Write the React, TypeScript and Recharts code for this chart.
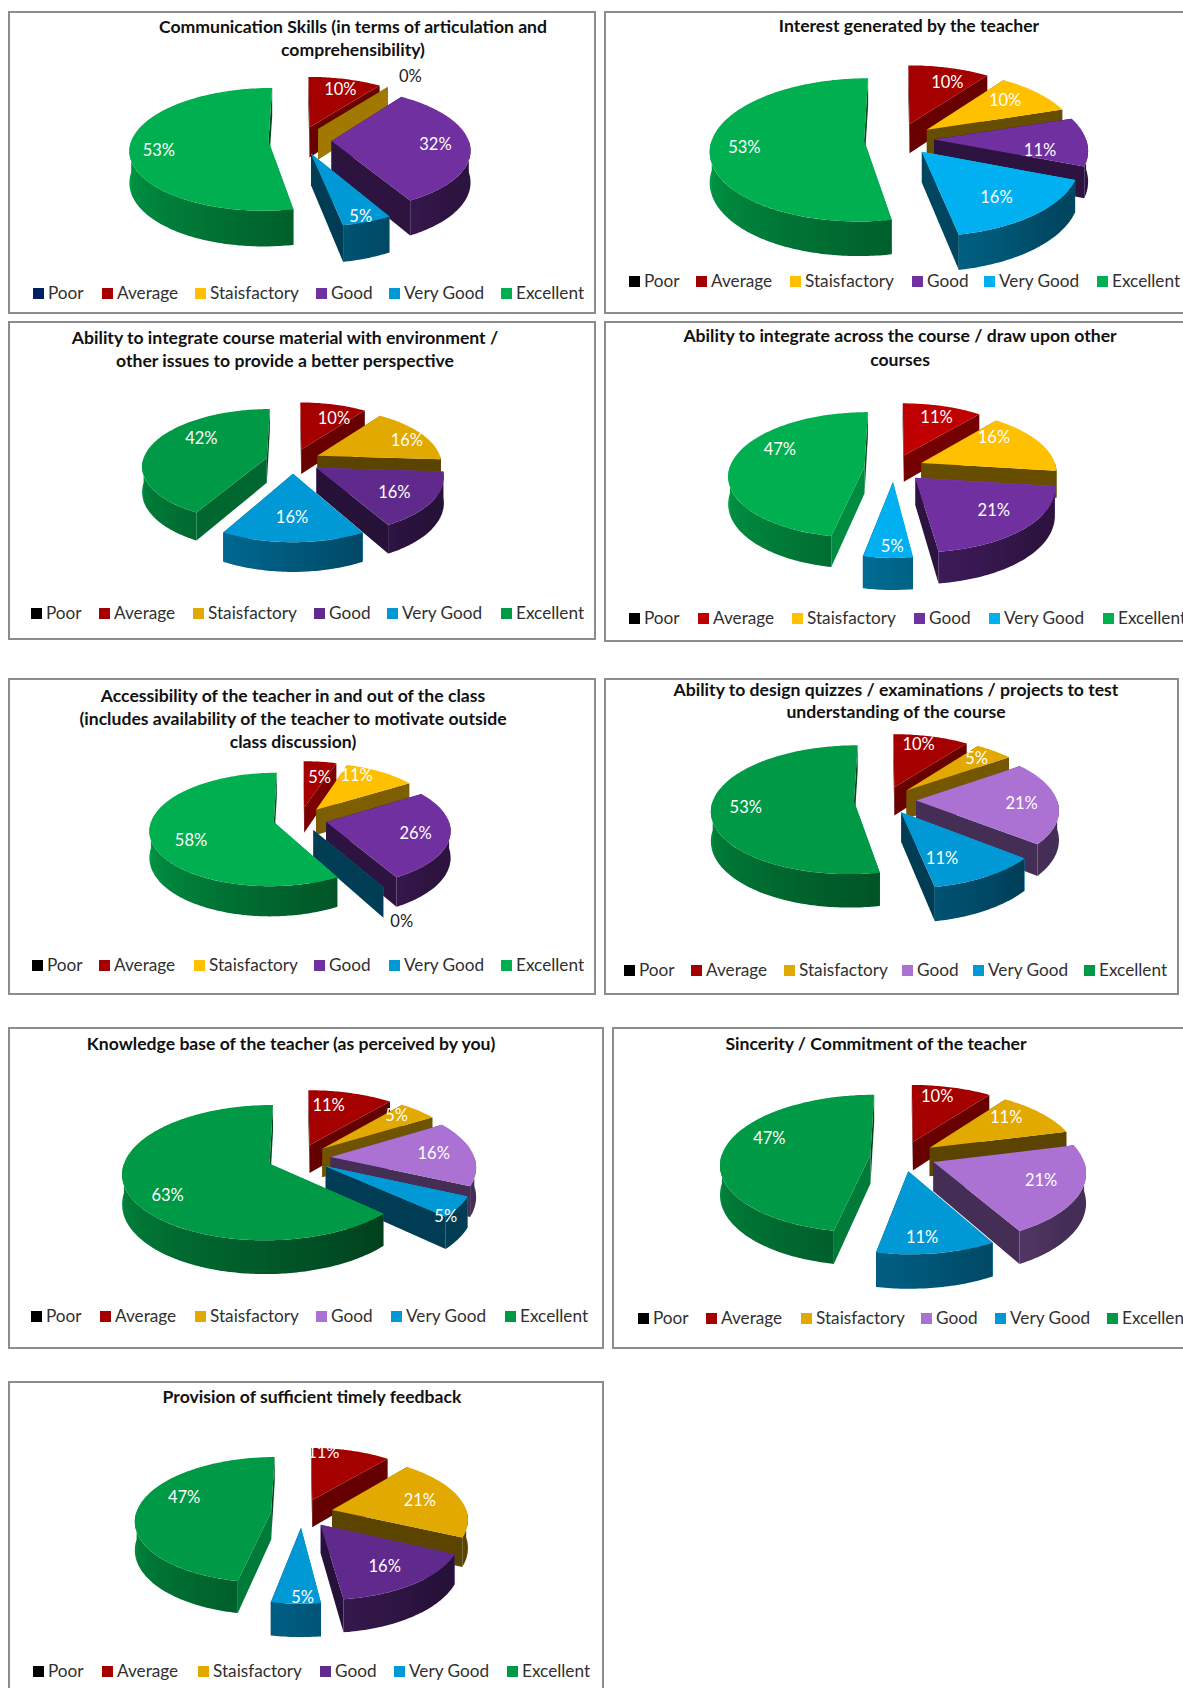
import React from 'react';
import { PieChart, Pie, Legend } from 'recharts';

const categories = ['Poor', 'Average', 'Staisfactory', 'Good', 'Very Good', 'Excellent'];

const communicationValues = [0, 10, 0, 32, 5, 53];
const interestValues = [0, 10, 10, 11, 16, 53];
const environmentValues = [0, 10, 16, 16, 16, 42];
const acrossCourseValues = [0, 11, 16, 21, 5, 47];
const accessibilityValues = [0, 5, 11, 26, 0, 58];
const quizzesValues = [0, 10, 5, 21, 11, 53];
const knowledgeValues = [0, 11, 5, 16, 5, 63];
const sincerityValues = [0, 10, 11, 21, 11, 47];
const feedbackValues = [0, 11, 21, 16, 5, 47];

const paletteA = ['#002060', '#a50000', '#ffc000', '#7030a0', '#0099d5', '#00b050'];
const paletteB = ['#000000', '#a50000', '#ffc000', '#7030a0', '#00b0f0', '#00b050'];
const paletteC = ['#000000', '#a50000', '#e2a900', '#602a8c', '#0099d5', '#009a46'];
const paletteD = ['#000000', '#c00000', '#ffc000', '#7030a0', '#00b0f0', '#00b050'];
const paletteE = ['#000000', '#a50000', '#ffc000', '#7030a0', '#0099d5', '#00b050'];
const paletteF = ['#000000', '#a50000', '#e2a900', '#ab72d4', '#0099d5', '#009a46'];

const PERSPECTIVE = 0.13;
const FONT = 'Lato, "Open Sans", sans-serif';

type Panel = {
  id: string;
  box: [number, number, number, number];
  title: string[];
  titleX: number;
  titleY: number[];
  values: number[];
  colors: string[];
  c: [number, number];
  rx: number;
  ry: number;
  depth: number;
  explode: number;
  nudge: number[][];
  labelClip?: [number, number];
  legendX: number[];
  legendY: number;
};

const panels: Panel[] = [
  {
    id: 'p1',
    box: [8, 11, 596, 314],
    title: ['Communication Skills (in terms of articulation and', 'comprehensibility)'],
    titleX: 353, titleY: [27, 50],
    values: communicationValues, colors: paletteA,
    c: [300, 140], rx: 137, ry: 60, depth: 31, explode: 0.23,
    nudge: [[0, 0], [3, -1], [3, 1], [-1, 0], [8.5, 12], [-4.5, 4]],
    legendX: [33, 102, 195, 316, 389, 501], legendY: 293,
  },
  {
    id: 'p2',
    box: [604, 11, 1200, 314],
    title: ['Interest generated by the teacher'],
    titleX: 909, titleY: [26],
    values: interestValues, colors: paletteB,
    c: [899, 139], rx: 152, ry: 70, depth: 30, explode: 0.23,
    nudge: [[0, 0], [7, 2], [-7, -1], [-10, 9], [-9, -1], [-3, 1]],
    legendX: [629, 696, 790, 912, 984, 1097], legendY: 281,
  },
  {
    id: 'p3',
    box: [8, 321, 596, 640],
    title: ['Ability to integrate course material with environment /', 'other issues to provide a better perspective'],
    titleX: 285, titleY: [338, 361],
    values: environmentValues, colors: paletteC,
    c: [293, 461], rx: 124, ry: 56, depth: 25, explode: 0.22,
    nudge: [[0, 0], [7.5, 4], [9.6, 1], [-8.7, -1], [-1, -6.5], [22.5, -10]],
    legendX: [31, 99, 193, 314, 387, 501], legendY: 613,
  },
  {
    id: 'p4',
    box: [604, 321, 1200, 642],
    title: ['Ability to integrate across the course / draw upon other', 'courses'],
    titleX: 900, titleY: [336, 360],
    values: acrossCourseValues, colors: paletteD,
    c: [894, 468], rx: 135, ry: 62, depth: 27, explode: 0.22,
    nudge: [[0, 0], [2.5, 0], [-17.5, -10], [-3, -5.5], [3, 8.5], [16, -13]],
    legendX: [629, 698, 792, 914, 989, 1103], legendY: 618,
  },
  {
    id: 'p5',
    box: [8, 678, 596, 995],
    title: ['Accessibility of the teacher in and out of the class', '(includes availability of the teacher to motivate outside', 'class discussion)'],
    titleX: 293, titleY: [696, 719, 742],
    values: accessibilityValues, colors: paletteE,
    c: [300, 819], rx: 122, ry: 55, depth: 26, explode: 0.22,
    nudge: [[0, 0], [3, 5.5], [-10, -5], [-4, 0], [-8, 12], [10.6, 7.6]],
    legendX: [32, 99, 194, 314, 389, 501], legendY: 965,
  },
  {
    id: 'p6',
    box: [604, 678, 1179, 995],
    title: ['Ability to design quizzes / examinations / projects to test', 'understanding of the course'],
    titleX: 896, titleY: [690, 712],
    values: quizzesValues, colors: paletteF,
    c: [885, 800], rx: 141, ry: 63, depth: 29, explode: 0.22,
    nudge: [[0, 0], [-4.5, -3.6], [2, -1.5], [-2, 1], [-22, -2], [0, 1]],
    legendX: [624, 691, 784, 902, 973, 1084], legendY: 970,
  },
  {
    id: 'p7',
    box: [8, 1027, 604, 1349],
    title: ['Knowledge base of the teacher (as perceived by you)'],
    titleX: 291, titleY: [1044],
    values: knowledgeValues, colors: paletteF,
    c: [299, 1158], rx: 144, ry: 65, depth: 29, explode: 0.22,
    nudge: [[0, 0], [-13, 1], [0, -4], [-5, -1], [21, 19], [5, 10]],
    legendX: [31, 100, 195, 316, 391, 505], legendY: 1316,
  },
  {
    id: 'p8',
    box: [612, 1027, 1200, 1349],
    title: ['Sincerity / Commitment of the teacher'],
    titleX: 876, titleY: [1044],
    values: sincerityValues, colors: paletteF,
    c: [903, 1156], rx: 149, ry: 68, depth: 29, explode: 0.22,
    nudge: [[0, 0], [-6, -3.5], [-9.5, -4.5], [-3, -3.5], [-7, 6], [10, -12]],
    legendX: [638, 706, 801, 921, 995, 1107], legendY: 1318,
  },
  {
    id: 'p9',
    box: [8, 1381, 604, 1720],
    title: ['Provision of sufficient timely feedback'],
    titleX: 312, titleY: [1397],
    values: feedbackValues, colors: paletteC,
    c: [302, 1513], rx: 135, ry: 62, depth: 28, explode: 0.23,
    nudge: [[0, 0], [-19, -9.5], [-9, 0], [-5, -2], [5.5, 14], [13.6, -10.7]],
    labelClip: [311, 1448],
    legendX: [33, 102, 198, 320, 394, 507], legendY: 1671,
  },
];

const rad = (d: number) => (d * Math.PI) / 180;

function shade(hex: string, f: number) {
  const n = parseInt(hex.slice(1), 16);
  const ch = (v: number) => Math.round(v * f);
  return `rgb(${ch((n >> 16) & 255)},${ch((n >> 8) & 255)},${ch(n & 255)})`;
}

const wallFactor = (t: number) => Math.min(0.92, Math.max(0.4, 0.4 + ((t - 130) * 0.5) / 140));
const faceFactor = (n: number) => Math.max(0.4, 0.8 - (n - 100) * 0.0065);

function project(px: number, py: number, cx: number, cy: number, rx: number, ry: number, dz: number) {
  const s = 1 / (1 - PERSPECTIVE * py);
  return [cx + rx * px * s, cy + ry * py * s + dz * s];
}

const toPath = (pts: number[][]) =>
  'M' + pts.map((p) => `${p[0].toFixed(1)},${p[1].toFixed(1)}`).join('L') + 'Z';

function makeSliceShape(panel: Panel) {
  return function SliceShape(props: any) {
    const { cx, cy, outerRadius, startAngle, endAngle, fill, name } = props;
    if (name === categories[0]) return <g />;
    const t1 = 90 - startAngle;
    const t2 = 90 - endAngle;
    const mid = (t1 + t2) / 2;
    const ex = panel.explode * Math.sin(rad(mid));
    const ey = -panel.explode * Math.cos(rad(mid));
    const rim = (t: number, dz: number) =>
      project(ex + Math.sin(rad(t)), ey - Math.cos(rad(t)), cx, cy, outerRadius, panel.ry, dz);
    const apex = (dz: number) => project(ex, ey, cx, cy, outerRadius, panel.ry, dz);

    const top: number[][] = [apex(0)];
    const steps = Math.max(1, Math.ceil(t2 - t1));
    for (let i = 0; i <= steps; i++) top.push(rim(t1 + ((t2 - t1) * i) / steps, 0));

    const face = (t: number) => [apex(0), rim(t, 0), rim(t, panel.depth), apex(panel.depth)];
    const startVisible = Math.sin(rad(t1)) < 0;
    const endVisible = Math.sin(rad(t2)) > 0.001;
    const hidden: React.ReactNode[] = [];
    const visible: React.ReactNode[] = [];
    const startColor = shade(fill, faceFactor(t1 - 90 < 0 ? t1 + 270 : t1 - 90));
    const endColor = shade(fill, faceFactor(t2 + 90));
    (startVisible ? visible : hidden).push(
      <path key="s" d={toPath(face(t1))} fill={startColor} />,
    );
    (endVisible ? visible : hidden).push(
      <path key="e" d={toPath(face(t2))} fill={endColor} />,
    );

    const a = Math.max(t1, 90);
    const b = Math.min(t2, 270);
    let wall: React.ReactNode = null;
    if (b > a) {
      const upper: number[][] = [];
      const lower: number[][] = [];
      const stops: React.ReactNode[] = [];
      const x1 = rim(a, 0)[0];
      const x2 = rim(b, 0)[0];
      const n = Math.max(2, Math.ceil(b - a));
      for (let i = 0; i <= n; i++) {
        const t = a + ((b - a) * i) / n;
        upper.push(rim(t, 0));
        lower.unshift(rim(t, panel.depth));
        if (i % 8 === 0 || i === n) {
          stops.push(
            <stop
              key={i}
              offset={Math.max(0, Math.min(1, (rim(t, 0)[0] - x1) / (x2 - x1 || 1)))}
              stopColor={shade(fill, wallFactor(t))}
            />,
          );
        }
      }
      const gid = `${panel.id}-${name.replace(/\s/g, '')}`;
      wall = (
        <>
          <defs>
            <linearGradient id={gid} gradientUnits="userSpaceOnUse" x1={x1} y1={0} x2={x2} y2={0}>
              {stops}
            </linearGradient>
          </defs>
          <path d={toPath([...upper, ...lower])} fill={`url(#${gid})`} />
        </>
      );
    }

    return (
      <g>
        {hidden}
        {visible}
        {wall}
        {t2 > t1 ? <path d={toPath(top)} fill={fill} /> : null}
      </g>
    );
  };
}

function makeLabel(panel: Panel) {
  return function SliceLabel(props: any) {
    const { cx, cy, outerRadius, midAngle, value, name } = props;
    if (name === categories[0]) return <g />;
    const idx = categories.indexOf(name);
    const t = 90 - midAngle;
    const reach = panel.explode + (value === 0 ? 1.32 : 0.76);
    const [x, y] = project(
      reach * Math.sin(rad(t)),
      -reach * Math.cos(rad(t)),
      cx,
      cy,
      outerRadius,
      panel.ry,
      0,
    );
    const clip = panel.labelClip && idx === 1 ? panel.labelClip : null;
    const clipId = `${panel.id}-labelclip`;
    return (
      <g>
        {clip ? (
          <defs>
            <clipPath id={clipId}>
              <rect x={clip[0] - panel.box[0]} y={clip[1] - panel.box[1]} width={200} height={100} />
            </clipPath>
          </defs>
        ) : null}
        <g clipPath={clip ? `url(#${clipId})` : undefined}>
          <text
            x={x + panel.nudge[idx][0]}
            y={y + panel.nudge[idx][1]}
            fill={value === 0 ? '#1a1a1a' : '#ffffff'}
            fontSize={16.5}
            fontFamily={FONT}
            textAnchor="middle"
            dominantBaseline="central"
          >
            {`${value}%`}
          </text>
        </g>
      </g>
    );
  };
}

function ChartPanel({ panel }: { panel: Panel }) {
  const [l, t, r, b] = panel.box;
  const w = r - l;
  const h = b - t;
  const data = categories.map((name, i) => ({ name, value: panel.values[i], fill: panel.colors[i] }));
  const shape = makeSliceShape(panel);
  const legendContent = (props: any) => (
    <div style={{ position: 'relative' }}>
      {(props.payload || []).map((item: any, i: number) => (
        <div
          key={item.value}
          style={{
            position: 'absolute',
            left: panel.legendX[i] - l,
            top: panel.legendY - t - 11,
            height: 22,
            lineHeight: '22px',
            whiteSpace: 'nowrap',
            fontSize: 17.2,
            fontFamily: FONT,
            color: '#303030',
          }}
        >
          <span
            style={{
              display: 'inline-block',
              width: 11,
              height: 11,
              marginRight: 4,
              background: item.color,
            }}
          />
          {item.value}
        </div>
      ))}
    </div>
  );
  return (
    <div
      style={{
        position: 'absolute',
        left: l,
        top: t,
        width: w,
        height: h,
        boxSizing: 'border-box',
        border: '2px solid #8c8c8c',
        background: '#fff',
      }}
    >
      <div style={{ position: 'absolute', left: -2, top: -2 }}>
        <PieChart width={w} height={h} margin={{ top: 0, right: 0, bottom: 0, left: 0 }}>
          <Pie
            data={data}
            dataKey="value"
            nameKey="name"
            cx={panel.c[0] - l}
            cy={panel.c[1] - t}
            outerRadius={panel.rx}
            startAngle={90}
            endAngle={-270}
            paddingAngle={0}
            minAngle={0}
            stroke="none"
            isAnimationActive={false}
            labelLine={false}
            label={makeLabel(panel)}
            shape={shape}
            activeShape={shape}
            inactiveShape={shape}
          />
          <Legend
            verticalAlign="bottom"
            itemSorter={null}
            content={legendContent}
            wrapperStyle={{ left: 0, top: 0, bottom: 'auto', width: w, height: 0 }}
          />
        </PieChart>
      </div>
      {panel.title.map((line, i) => (
        <div
          key={line}
          style={{
            position: 'absolute',
            left: panel.titleX - l - 2 - 300,
            width: 600,
            top: panel.titleY[i] - t - 2 - 11,
            height: 22,
            lineHeight: '22px',
            textAlign: 'center',
            fontFamily: FONT,
            fontWeight: 700,
            fontSize: 17.6,
            color: '#111',
            whiteSpace: 'nowrap',
          }}
        >
          {line}
        </div>
      ))}
    </div>
  );
}

export default function App() {
  return (
    <div
      style={{
        position: 'absolute',
        left: 0,
        top: 0,
        width: 1183,
        height: 1688,
        overflow: 'hidden',
        background: '#fff',
      }}
    >
      {panels.map((p) => (
        <ChartPanel key={p.id} panel={p} />
      ))}
    </div>
  );
}
